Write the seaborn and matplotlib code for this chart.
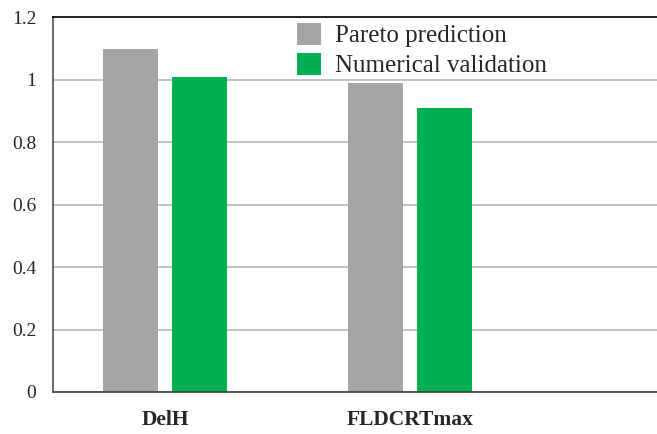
import matplotlib
matplotlib.use("Agg")
import matplotlib.pyplot as plt
import matplotlib.ticker as mticker
import pandas as pd
import seaborn as sns

categories = ["DelH", "FLDCRTmax"]
series = ["Pareto prediction", "Numerical validation"]
pareto = [1.10, 0.99]
numerical = [1.01, 0.91]
yticks = [0, 0.2, 0.4, 0.6, 0.8, 1.0, 1.2]

df = pd.DataFrame({
    "case": categories * 2,
    "method": [series[0]] * 2 + [series[1]] * 2,
    "value": pareto + numerical,
})

sns.set_style("white")
plt.rcParams["font.family"] = ["Liberation Serif", "DejaVu Serif"]

fig = plt.figure(figsize=(6.57, 4.34), dpi=100)
ax = fig.add_axes([0.0807, 0.0968, 0.9193, 0.863])

sns.barplot(data=df, x="case", y="value", hue="method",
            palette=["#A5A5A5", "#00B050"], width=0.563, gap=0.2,
            saturation=1, linewidth=0, ax=ax)

ax.set_ylim(0, 1.2)
# plot area runs on past the second group (cropped in the original)
ax.set_xlim(-0.457, 2.008)
ax.set_yticks(yticks)
ax.yaxis.set_major_formatter(mticker.FormatStrFormatter("%g"))
ax.yaxis.grid(True, color="#BEBEBE", linewidth=1.3)
ax.set_axisbelow(True)
ax.tick_params(axis="y", length=0, pad=12, labelsize=14)
ax.tick_params(axis="x", length=0, pad=13, labelsize=15.5)
for lbl in ax.get_xticklabels():
    lbl.set_fontweight("bold")
ax.set_xlabel("")
ax.set_ylabel("")

ax.spines["right"].set_visible(False)
ax.spines["top"].set_color("black")
ax.spines["top"].set_linewidth(1.2)
ax.spines["left"].set_color("#505050")
ax.spines["bottom"].set_color("#404040")
ax.spines["left"].set_linewidth(1.2)
ax.spines["bottom"].set_linewidth(1.2)

ax.legend(loc="upper left", bbox_to_anchor=(0.404, 0.985), frameon=False,
          fontsize=18, borderpad=0, borderaxespad=0, handlelength=0.95,
          handleheight=0.95, handletextpad=0.55, labelspacing=0.22)

fig.savefig("out.png", dpi=100)
